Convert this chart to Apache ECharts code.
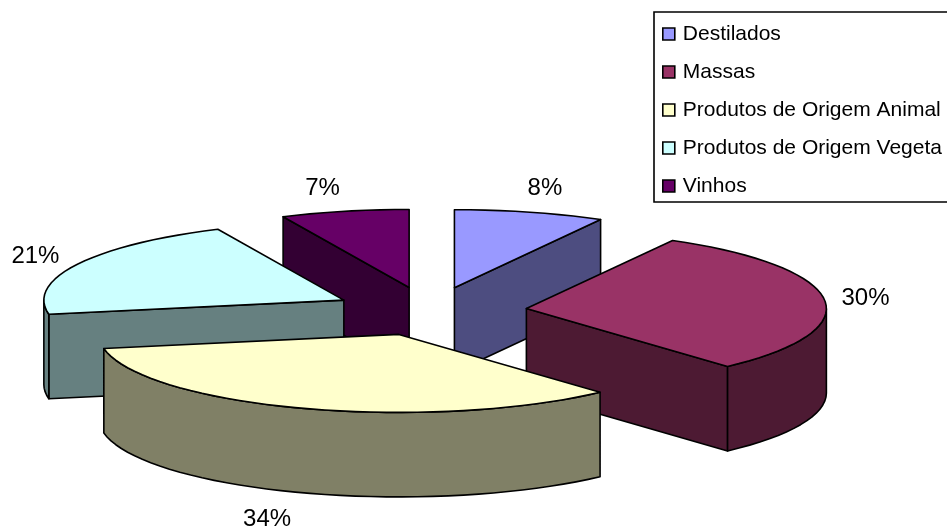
<!DOCTYPE html>
<html><head><meta charset="utf-8">
<style>html,body{margin:0;padding:0;background:#fff;overflow:hidden}#c{width:947px;height:528px}</style>
<script src="https://cdn.jsdelivr.net/npm/echarts@6/dist/echarts.min.js"></script>
</head><body><div id="c"></div>
<script>
const categories = ['Destilados','Massas','Produtos de Origem Animal','Produtos de Origem Vegeta','Vinhos'];
const percentValues = [8.1,30.2,33.8,21.0,6.9];
const topColors = ['#9999FF','#993366','#FFFFCC','#CCFFFF','#660066'];
const sideColors = ['#4D4D80','#4D1A33','#808066','#668080','#330033'];

// 3-D projection of the pie
const CX=430, CY=311.3, RX=300, RY=78, DEPTH=84.5, EXPLODE_X=97, EXPLODE_Y=24.4, FONT='"Liberation Sans", Arial, sans-serif';
const labelShift = [[15,-23.5],[41,-1],[-35.5,27],[-42,-8],[-22,-23]];
const drawOrder = [4,0,3,1,2];

const total = percentValues.reduce((a,b)=>a+b,0);
function slice(i){
  let sum=0; for(let k=0;k<i;k++) sum+=percentValues[k];
  const s=sum/total*360, e=(sum+percentValues[i])/total*360, m=(s+e)/2;
  const rad=d=>d*Math.PI/180;
  const ax=CX+EXPLODE_X*Math.sin(rad(m)), ay=CY-EXPLODE_Y*Math.cos(rad(m));
  const rim=t=>[ax+RX*Math.sin(rad(t)), ay-RY*Math.cos(rad(t))];
  return {s,e,m,ax,ay,rim};
}
function arcPts(g,from,to){ const pts=[]; const n=Math.max(2,Math.ceil((to-from)/3));
  for(let j=0;j<=n;j++) pts.push(g.rim(from+(to-from)*j/n)); return pts; }
const down=p=>[p[0],p[1]+DEPTH];
const poly=(points,fill)=>({type:'polygon',shape:{points},style:{fill,stroke:'#000',lineWidth:1.6,lineJoin:'round'}});

function renderSlice(i){
  const g=slice(i), A=[g.ax,g.ay], kids=[];
  const radial=t=>{const r=g.rim(t);return poly([A,r,down(r),down(A)],sideColors[i]);};
  if(Math.sin(g.s*Math.PI/180)<-1e-6) kids.push(radial(g.s));
  if(Math.sin(g.e*Math.PI/180)>1e-6) kids.push(radial(g.e));
  const w0=Math.max(g.s,90), w1=Math.min(g.e,270);
  if(w1>w0){const p=arcPts(g,w0,w1); kids.push(poly(p.concat(p.slice().reverse().map(down)),sideColors[i]));}
  kids.push(poly([A].concat(arcPts(g,g.s,g.e)),topColors[i]));
  return {type:'group',children:kids};
}
function labelPos(i){
  const g=slice(i), p=g.rim(g.m), front=Math.cos(g.m*Math.PI/180)<0&&Math.abs(Math.sin(g.m*Math.PI/180))<0.9;
  return [p[0]+labelShift[i][0], p[1]+(front?DEPTH:0)+labelShift[i][1]];
}
const series = drawOrder.map(i=>({
  type:'custom', name:categories[i], coordinateSystem:'none', silent:true, animation:false,
  itemStyle:{color:topColors[i]}, data:[percentValues[i]],
  renderItem:()=>renderSlice(i)
}));
series.push({
  type:'custom', name:'labels', coordinateSystem:'none', silent:true, animation:false, z:5,
  data:percentValues,
  renderItem:(p,api)=>{const i=p.dataIndex,q=labelPos(i);
    return {type:'text',x:q[0],y:q[1],style:{text:Math.round(api.value(0))+'%',fill:'#000',font:'24px '+FONT,align:'center',verticalAlign:'middle'}};}
});
const chart=echarts.init(document.getElementById('c'),null,{renderer:'canvas'});
chart.setOption({
  animation:false, backgroundColor:'#fff',
  legend:{
    data:categories, orient:'vertical', left:654, top:12,
    padding:[11.5,30,5.5,8], itemGap:17, itemWidth:12, itemHeight:12, icon:'rect',
    borderColor:'#000', borderWidth:1.6, backgroundColor:'#fff', selectedMode:false,
    itemStyle:{borderColor:'#000',borderWidth:1.6},
    textStyle:{fontFamily:FONT,fontSize:21,color:'#000',lineHeight:20,padding:[0,0,0,3]}
  },
  series
});
</script></body></html>
